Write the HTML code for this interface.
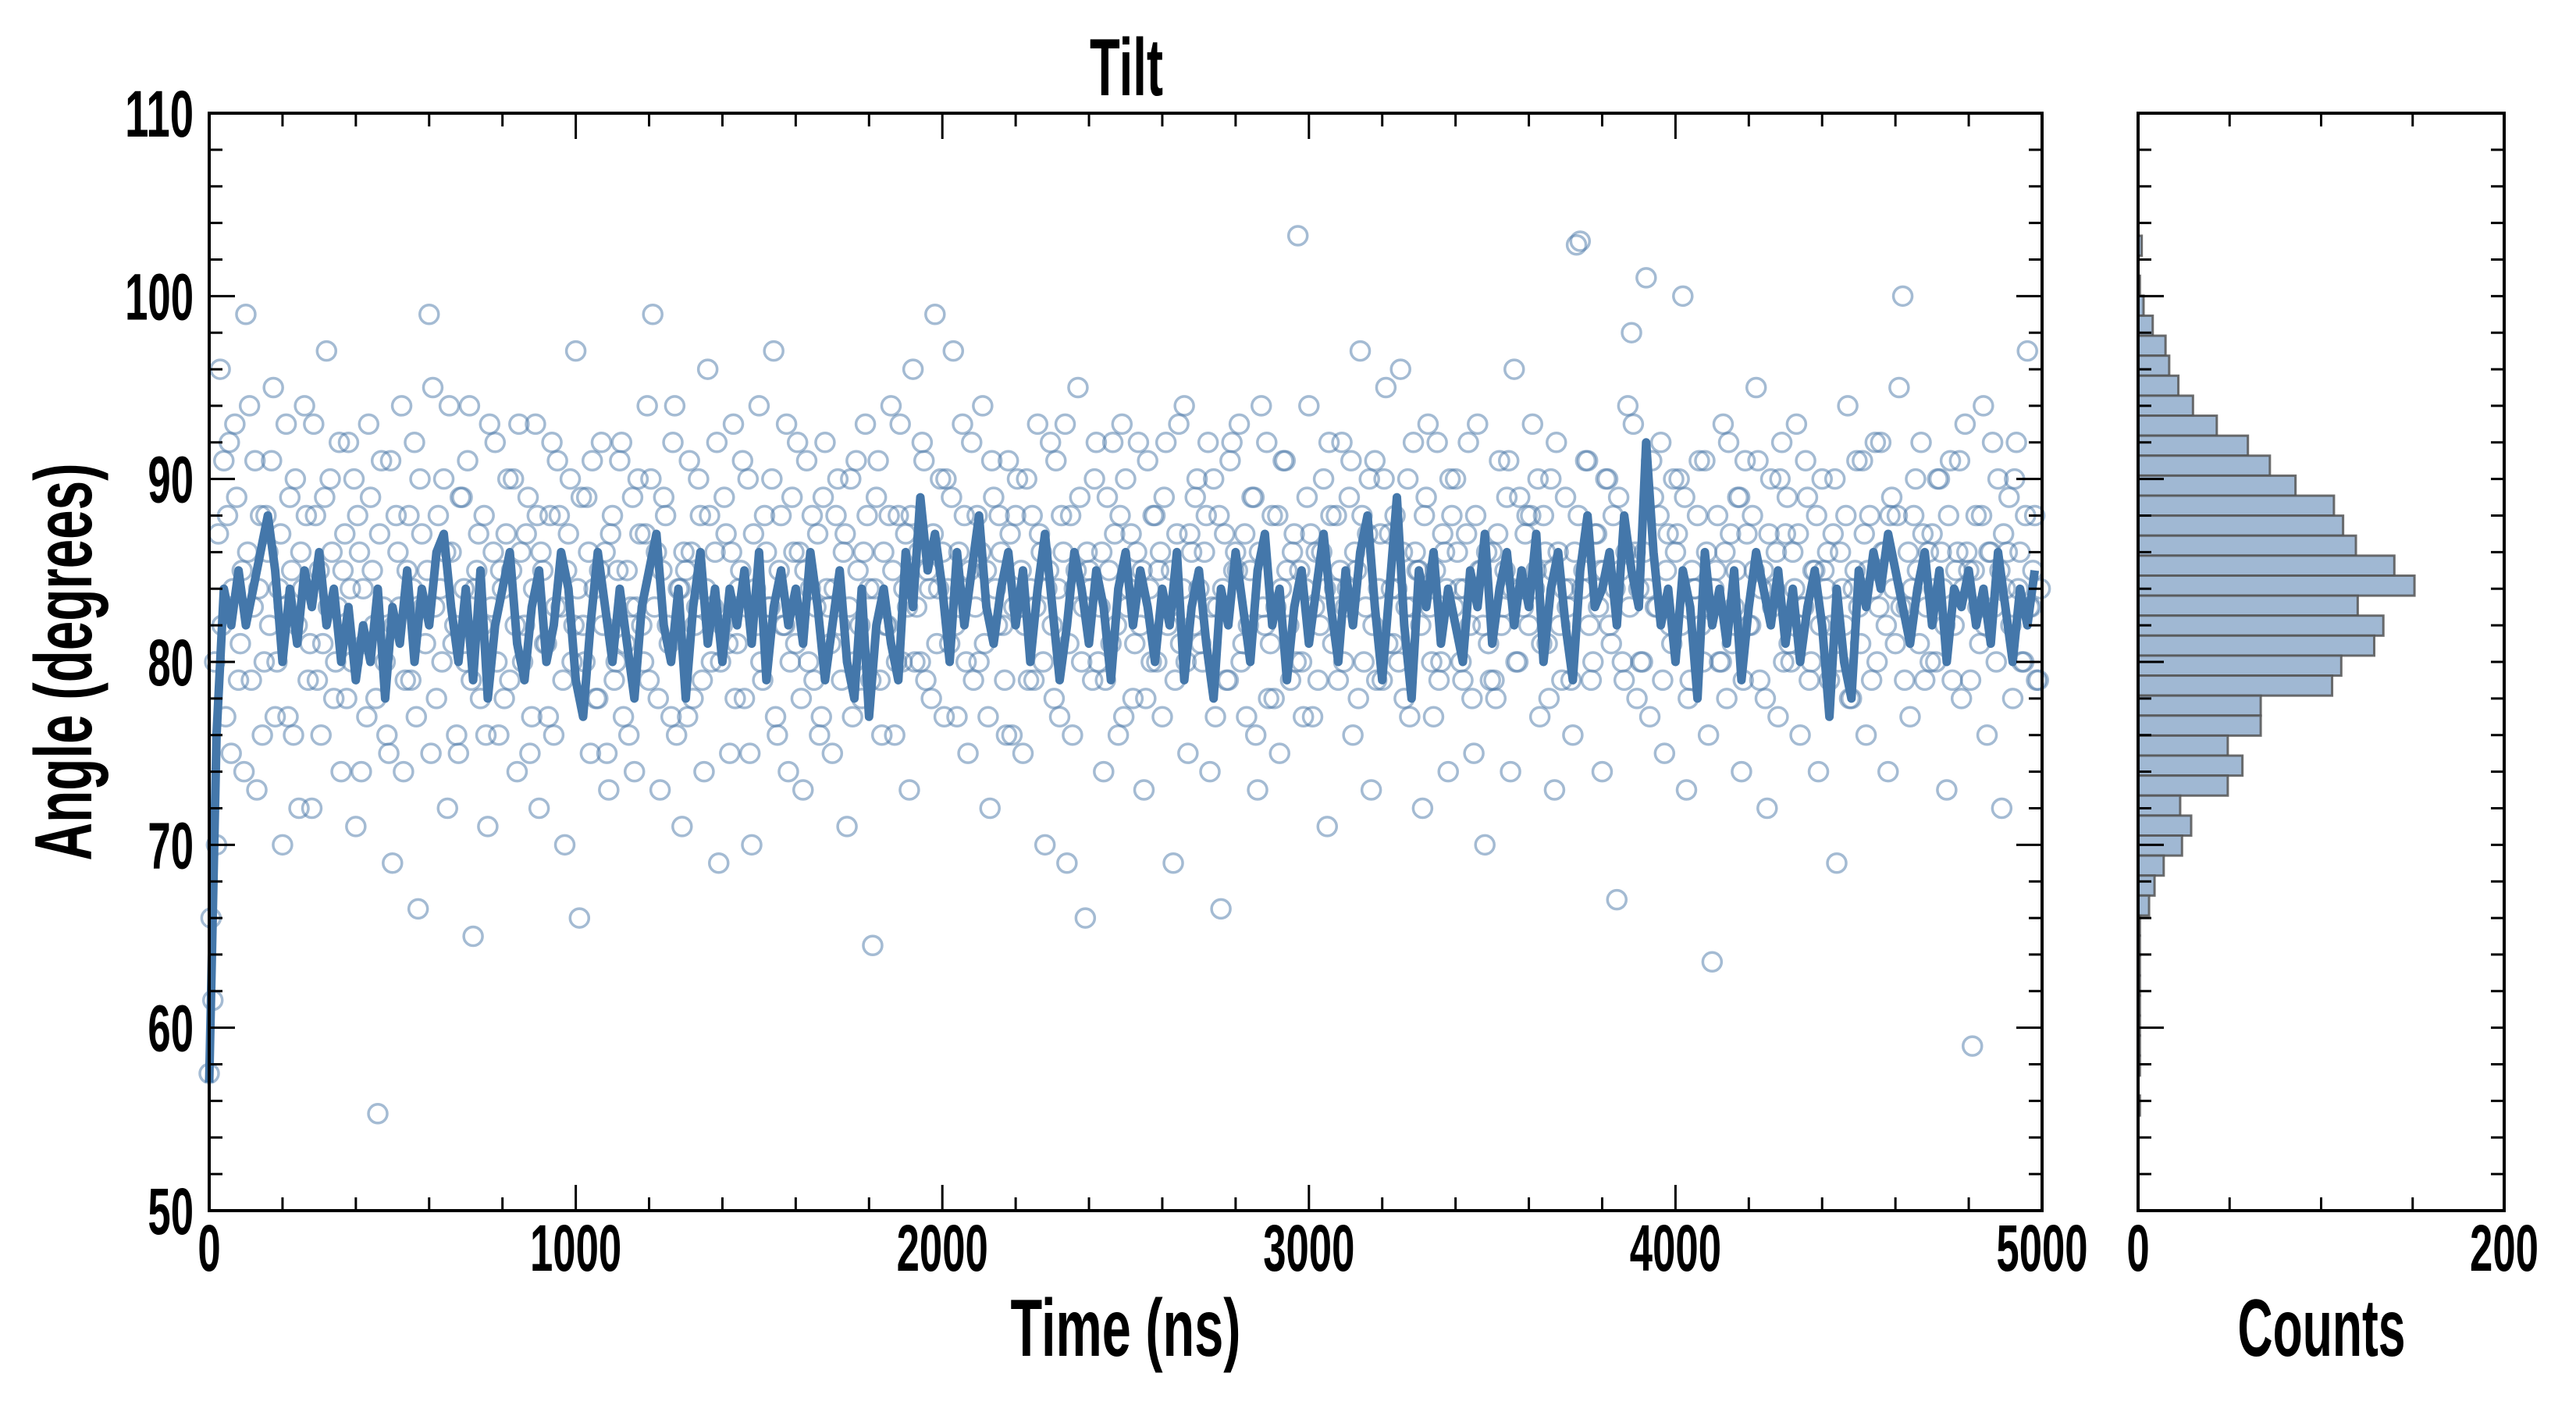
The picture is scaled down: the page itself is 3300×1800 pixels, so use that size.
<!DOCTYPE html>
<html><head><meta charset="utf-8"><title>Tilt</title>
<style>
html,body{margin:0;padding:0;background:#fff;}
svg{display:block;font-family:"Liberation Sans Narrow","Liberation Sans",sans-serif;font-weight:bold;}
</style></head>
<body>
<svg id="chart" width="3300" height="1800" viewBox="0 0 3300 1800" xmlns="http://www.w3.org/2000/svg">
<rect x="0" y="0" width="3300" height="1800" fill="#fff"/>
<g id="main"></g>
<g id="hist"></g>
<text x="1443" y="122" font-size="104" text-anchor="middle" textLength="94" lengthAdjust="spacingAndGlyphs">Tilt</text>
<text x="1442" y="1737" font-size="104" text-anchor="middle" textLength="295" lengthAdjust="spacingAndGlyphs">Time (ns)</text>
<text x="2974" y="1737" font-size="104" text-anchor="middle" textLength="215" lengthAdjust="spacingAndGlyphs">Counts</text>
<text x="0" y="0" transform="translate(117,848) rotate(-90)" font-size="104" text-anchor="middle" textLength="509" lengthAdjust="spacingAndGlyphs">Angle (degrees)</text>
</svg>
<script>
// ---- data ----
const xTickLabels = ["0","1000","2000","3000","4000","5000"];
const yTickLabels = ["50","60","70","80","90","100","110"];
const histTickLabels = ["0","200"];
const scatterStep = 10;
const scatterAngles = [
57.5,61.5,70,96,91,88,75,93,79,85,
99,94,83,73,88,80,86,91,77,84,
70,93,89,76,82,86,94,79,72,88,
85,81,97,90,78,83,74,87,92,80,
71,86,84,77,89,82,55.3,91,80,75,
69,88,83,74,85,79,92,66.5,87,81,
99,95,78,84,90,72,86,82,75,89,
80,94,65,85,78,88,71,83,92,76,
84,87,79,90,74,86,82,89,77,93,
72,85,81,88,76,91,83,70,87,80,
97,66,82,89,75,84,78,92,86,73,
88,80,91,77,85,83,74,90,82,87,
79,99,86,73,89,82,77,94,84,71,
85,91,78,83,88,74,96,80,86,69,
82,87,75,93,81,85,78,90,70,84,
94,79,86,83,97,76,88,82,74,89,
81,86,73,91,84,79,87,77,92,83,
75,88,82,86,71,90,80,85,78,93,
84,64.5,89,79,86,82,94,76,88,80,
87,73,96,83,80,91,85,78,99,84,
86,90,81,97,77,84,88,75,92,83,
80,94,85,72,89,82,86,79,91,76,
88,83,75,90,84,79,93,86,70,85,
82,91,77,86,69,88,84,95,80,66,
85,79,92,83,74,89,81,87,76,93,
90,84,78,86,82,73,91,80,88,85,
77,92,83,69,87,81,94,75,86,89,
84,80,88,74,90,83,66.5,87,79,92,
86,93,81,77,85,89,73,94,82,78,
88,83,75,91,85,79,87,103.3,80,84,
94,77,86,82,90,71,88,84,79,92,
83,89,76,85,97,80,87,73,91,84,
79,95,87,81,84,96,78,90,83,86,
85,72,89,83,77,92,80,86,74,88,
90,84,79,87,82,75,93,85,70,81,
86,78,91,83,89,74,96,80,84,87,
82,93,85,77,88,81,90,73,86,79,
89,84,76,102.8,103,85,91,79,87,83,
74,90,82,88,67,85,79,94,98,86,
84,80,101,77,89,83,92,75,87,81,
86,90,100,73,79,84,88,82,91,76,
63.6,85,80,93,78,87,83,89,74,91,
82,88,95,79,85,72,90,84,77,92,
87,81,86,93,76,83,89,80,85,74,
90,84,79,87,69,86,82,94,78,85,
83,91,76,88,84,80,92,86,74,89,
81,95,100,83,77,88,85,92,79,86,
87,80,90,84,73,91,82,86,78,93,
85,59,88,81,94,76,86,83,90,72,
84,89,78,92,86,80,97,83,88,79];
const scatterAngles2 = [
66,80,87,82,77,92,84,89,81,74,
86,79,91,84,76,88,82,95,80,87,
83,77,85,90,72,84,88,81,93,79,
76,89,83,86,80,92,85,78,84,90,
88,74,81,93,85,78,87,83,76,91,
82,86,94,79,88,84,77,90,83,85,
75,83,88,80,86,94,81,76,89,84,
91,79,84,87,82,76,93,86,80,85,
78,90,85,82,93,80,87,75,84,88,
86,81,77,92,83,88,79,85,90,82,
84,89,80,86,91,78,85,82,75,87,
79,85,92,81,76,89,83,87,80,94,
90,83,78,85,88,81,92,76,84,86,
77,86,82,90,79,84,88,83,92,80,
89,81,86,78,84,91,83,75,87,82,
80,88,83,90,77,85,82,93,80,86,
92,78,85,80,88,83,76,89,84,81,
84,90,79,87,83,77,91,82,86,88,
79,84,91,76,82,88,85,80,93,84,
83,88,80,86,92,79,84,87,81,90,
77,84,89,82,86,93,80,85,79,88,
86,81,77,91,84,88,82,76,87,83,
90,85,82,79,88,83,87,80,84,92,
78,84,88,93,81,76,85,89,83,86,
84,90,80,86,79,85,92,82,88,77,
83,87,81,92,85,78,84,88,80,86,
89,82,85,79,93,84,80,87,82,90,
81,86,92,83,77,88,84,79,91,85,
85,80,87,82,89,76,86,83,92,81,
78,88,84,91,82,86,80,85,77,89,
87,83,79,86,84,92,81,88,85,80,
84,91,86,78,88,83,90,82,79,87,
90,81,84,88,80,86,83,77,92,85,
82,88,93,80,85,79,87,84,90,83,
86,80,84,92,78,88,85,82,86,79,
79,87,82,85,91,84,80,89,83,88,
88,84,90,81,86,78,85,92,82,84,
83,79,86,88,84,91,82,80,87,85,
85,90,81,84,89,80,86,83,93,78,
80,86,84,91,83,88,79,85,82,90,
87,82,89,78,85,84,91,80,86,83,
84,88,80,86,92,81,85,89,79,87,
82,85,91,84,78,87,83,86,90,80,
89,80,84,87,83,91,79,85,88,82,
85,86,82,90,80,84,88,78,84,91,
81,87,85,79,92,83,86,82,88,84,
88,83,79,86,84,90,81,87,83,80,
84,90,86,82,88,79,85,91,84,86,
79,85,83,88,82,86,92,80,85,87,
86,82,90,84,80,88,83,85,79,84];
const lineStep = 20;
const lineAngles = [
57,76,84,82,85,82,84,86,88,85,
80,84,81,85,83,86,82,84,80,83,
79,82,80,84,78,83,81,85,80,84,
82,86,87,83,80,84,79,85,78,82,
84,86,81,79,83,85,80,82,86,84,
79,77,82,86,83,80,84,81,78,83,
85,87,82,80,84,78,83,86,81,84,
80,84,82,85,81,86,79,83,85,82,
84,81,86,83,79,82,85,80,78,84,
77,82,84,81,79,86,83,89,85,87,
84,80,86,82,85,88,83,81,84,86,
82,85,80,84,87,83,79,82,86,84,
81,85,83,79,84,86,82,85,83,80,
84,82,86,79,83,85,81,78,84,82,
86,83,80,85,87,82,84,79,83,85,
81,84,87,83,80,85,82,86,88,83,
79,84,89,82,78,85,83,86,81,84,
82,80,85,83,87,81,84,86,82,85,
83,87,80,84,86,82,79,85,88,83,
84,86,82,88,85,83,92,86,82,84,
80,85,83,78,86,82,84,81,85,79,
83,86,84,82,85,81,84,80,83,85,
82,77,84,80,78,85,83,86,84,87,
85,83,81,84,86,82,85,80,84,83,
85,82,84,81,86,83,80,84,82,85];
const histMin = 55.2;
const histBinWidth = 1.0932;
// counts from the top bin (highest angle) downward
const histCounts = [2,0,1,3,8,15,17,22,30,43,60,72,86,107,112,119,140,151,120,134,129,111,106,67,67,49,57,49,23,29,24,14,9,6,1,1,1,1,1,1,1,1,0,1];

// ---- geometry ----
const NS = "http://www.w3.org/2000/svg";
const MX0 = 268, MX1 = 2616, MY0 = 145, MY1 = 1551, HX0 = 2739, HX1 = 3208;
const xScale = t => MX0 + (t / 5000) * (MX1 - MX0);
const yScale = a => MY1 - ((a - 50) / 60) * (MY1 - MY0);
const cScale = c => HX0 + (c / 200) * (HX1 - HX0);
const main = document.getElementById('main');
const hist = document.getElementById('hist');
function mk(tag, attrs, parent) {
  const e = document.createElementNS(NS, tag);
  for (const k in attrs) e.setAttribute(k, attrs[k]);
  parent.appendChild(e);
  return e;
}

// scatter
const sg = mk('g', {}, main);


function drawScatter(arr, offset) {
  arr.forEach((a, i) => {
    const c = mk('circle', {cx: xScale(i * scatterStep + offset), cy: yScale(a), r: 12, fill: 'none', stroke: '#4a78a8', 'stroke-opacity': 0.5, 'stroke-width': 3.5}, sg);
    
    
  });
}
drawScatter(scatterAngles, 0);
drawScatter(scatterAngles2, 5);

// line
const pts = lineAngles.map((a, i) => xScale(i * lineStep).toFixed(1) + ',' + yScale(a).toFixed(1)).join(' ');
const pl = mk('polyline', {points: pts, fill: 'none', stroke: '#4477aa', 'stroke-width': 11, 'stroke-linejoin': 'round'}, main);



// histogram bars
const topEdge = histMin + histBinWidth * histCounts.length;
histCounts.forEach((c, i) => {
  if (c <= 0) return;
  const hi = topEdge - i * histBinWidth, lo = hi - histBinWidth;
  const r = mk('rect', {x: HX0, y: yScale(hi), width: cScale(c) - HX0, height: yScale(lo) - yScale(hi), fill: '#a0b8d3', stroke: '#555', 'stroke-opacity': 0.85, 'stroke-width': 3}, hist);
  
  
});

// axes frames and ticks
function frame(x0, x1, parent, name) {
  const r = mk('rect', {x: x0, y: MY0, width: x1 - x0, height: MY1 - MY0, fill: 'none', stroke: '#000', 'stroke-width': 4}, parent);
  
  
}
function tick(x1, y1, x2, y2, parent) {
  mk('line', {x1: x1, y1: y1, x2: x2, y2: y2, stroke: '#000', 'stroke-width': 3}, parent);
}
frame(MX0, MX1, main, 'main-axes-frame');
frame(HX0, HX1, hist, 'histogram-axes-frame');
for (let a = 50; a <= 110; a += 2) {
  const y = yScale(a), L = (a % 10 === 0) ? 33 : 17;
  tick(MX0, y, MX0 + L, y, main); tick(MX1, y, MX1 - L, y, main);
  tick(HX0, y, HX0 + L, y, hist); tick(HX1, y, HX1 - 17, y, hist);
}
for (let t = 0; t <= 5000; t += 200) {
  const x = xScale(t), L = (t % 1000 === 0) ? 33 : 17;
  tick(x, MY1, x, MY1 - L, main); tick(x, MY0, x, MY0 + L, main);
}
for (let c = 0; c <= 200; c += 50) {
  const x = cScale(c), L = (c % 200 === 0) ? 33 : 17;
  tick(x, MY1, x, MY1 - L, hist); tick(x, MY0, x, MY0 + L, hist);
}
// labels
const svg = document.getElementById('chart');
function label(txt, x, y, anchor, name) {
  const e = mk('text', {x: x, y: y, 'font-size': 84, 'text-anchor': anchor, textLength: 29.3 * txt.length, lengthAdjust: 'spacingAndGlyphs'}, svg);
  e.textContent = txt;
  
  
}
yTickLabels.forEach(s => label(s, 248, yScale(+s) + 30, 'end', 'y-tick-label'));
xTickLabels.forEach(s => label(s, xScale(+s), 1628, 'middle', 'x-tick-label'));
histTickLabels.forEach(s => label(s, cScale(+s), 1628, 'middle', 'histogram-x-tick-label'));
</script>
</body></html>
